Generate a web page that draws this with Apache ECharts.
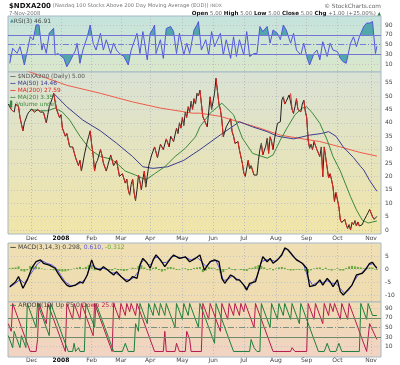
<!DOCTYPE html>
<html><head><meta charset="utf-8">
<script src="https://cdn.jsdelivr.net/npm/echarts@6/dist/echarts.min.js"></script>
<style>html,body{margin:0;padding:0;background:#fff}#c{width:400px;height:365px}</style>
</head><body><div id="c"></div>
<script>
// ---- axis / tick labels ----
const monthLabels = ['Dec','2008','Feb','Mar','Apr','May','Jun','Jul','Aug','Sep','Oct','Nov'];
const monthIdx    = [16,36,57,77,97,119,140,161,183,204,225,248]; // trading-day index of month start
const rsiTicks   = [10,30,50,70,90];
const priceTicks = [0,5,10,15,20,25,30,35,40,45,50,55];
const macdTicks  = [-10,-5,0,5];
const aroonTicks = [10,30,50,70,90];

// ---- series values: [trading-day index, value] ----
const priceClose = [[0,47],[1,47],[2,45],[4,44],[5,47],[7,46],[8,42],[10,37],[11,40],[13,43],[14,44],[16,45],[18,44],[20,45],[22,44],[24,44],[26,40],[27,43],[28,46],[30,49],[31,51],[32,48],[33,45],[35,42],[36,43],[37,38],[39,35],[40,36],[42,31],[44,31],[45,29],[46,27],[48,24],[49,26],[50,22],[52,28],[54,33],[55,35],[56,37],[57,32],[58,28],[59,22],[60,25],[61,26],[63,30],[64,28],[65,25],[67,22],[68,24],[70,28],[71,26],[72,24],[74,26],[75,23],[76,20],[78,21],[80,17.5],[81,19],[82,15],[83,13],[84,17],[85,19],[86,14],[87,11],[88,15],[89,20.5],[90,18],[91,15],[92,19],[93,22],[94,16],[95,20],[96,24],[98,28],[100,31],[102,27],[104,32],[106,30],[108,34],[110,31],[111,35],[113,33],[115,38],[116,36],[117,40],[118,38],[119,42],[120,39],[121,44],[122,42],[123,46],[124,44],[125,48],[126,45],[127,49],[128,47],[129,51],[130,50],[131,52.2],[133,42.3],[136,38.5],[138,49.7],[139,45],[141,51],[142,56.6],[144,47],[145,45],[146,41],[147,34.8],[149,38.5],[152,41.5],[153,36.7],[154,35],[155,32.3],[157,33],[158,29.9],[160,24.9],[161,21.3],[162,20],[164,26],[165,22.8],[166,24],[168,20.5],[170,20.5],[171,26],[172,30],[173,32.3],[174,28],[176,31.3],[177,34.2],[178,28.6],[179,34.8],[180,33],[181,30],[182,34],[184,39.8],[186,40.4],[187,48.5],[188,49.7],[189,47],[190,48],[192,50.4],[193,51],[194,45],[195,43.5],[196,46],[197,49],[198,45],[200,44.1],[201,47],[202,48.5],[203,44.5],[204,42],[205,33.6],[206,30.5],[207,32],[208,30],[209,33],[211,30],[213,27.4],[214,31],[215,19.9],[216,31],[217,27],[219,19.4],[220,21],[221,18.7],[222,16],[223,10.6],[224,14],[226,8.7],[227,3.7],[228,2.8],[230,4],[231,2],[232,0.6],[233,2],[234,0],[235,2.8],[236,2],[237,3.5],[238,1.5],[239,3],[240,1.5],[241,1.5],[242,2],[243,3.5],[244,4.4],[245,5.5],[246,6.5],[247,7.7],[249,5],[250,4],[251,4],[252,5]];
const ma20 = [[15,45],[22,44.5],[27,44.5],[32,45.5],[37,44],[42,41],[49,35],[56,30],[63,27.4],[70,26.5],[74,25],[80,22],[87,20.5],[94,18.7],[100,21],[107,23.6],[114,27.4],[121,30.5],[128,34.8],[131,38.5],[138,43.6],[146,47.3],[154,43],[160,34.3],[167,28.6],[177,26.8],[181,28],[186,33.6],[191,38.5],[196,43],[201,45.5],[204,46],[208,43.6],[213,39.8],[218,33.6],[222,27.4],[227,22],[234,12.4],[238,7.5],[242,3.7],[246,2.6],[249,3],[252,3.35]];
const ma50 = [[31,51],[40,46],[51,41],[63,37],[74,32.4],[85,27.4],[92,23.6],[99,23],[109,23.6],[120,26],[131,30],[145,35.5],[158,40.4],[167,38.5],[177,36.7],[184,35],[195,34],[206,35.4],[214,36],[219,36.7],[224,35],[229,31],[236,27],[241,23.6],[243,22.4],[247,18.5],[252,14.46]];
const ma200 = [[10,60],[17,58.5],[40,54],[63,51],[85,47.8],[104,45.5],[126,43.6],[131,43.6],[145,42.4],[158,40.3],[172,38],[186,35.4],[199,34.2],[213,33],[227,31],[240,29],[252,27.59]];
const rsi3 = [[1,12],[3,42.6],[6,32.4],[8,46],[11,8.6],[15,66.4],[17,59.6],[19,90.2],[21,90],[23,39],[24,52.8],[26,32.4],[28,73.2],[31,83.4],[32,29],[34,32],[38,22],[40,5],[42,15],[46,39],[47,53],[49,12],[51,39],[54,66],[56,90],[58,53],[60,39],[63,73],[65,39],[67,60],[70,32],[72,53],[74,39],[76,32],[79,26],[82,8.6],[84,39],[88,73],[90,32],[92,76.6],[95,19],[97,73],[99,83],[100,90],[101,32],[104,60],[106,22],[108,83],[111,87],[113,76.6],[115,32],[117,73],[120,29],[122,53],[124,32],[127,80],[129,90],[130,97],[132,39],[135,60],[137,29],[139,76.6],[141,46],[145,73],[147,29],[149,60],[152,22],[154,66],[156,26],[158,60],[161,29],[163,76.6],[165,26],[168,32],[170,32],[172,87],[174,76.6],[177,87],[179,53],[181,80],[184,73],[186,60],[188,90],[190,80],[193,53],[195,73],[197,39],[200,29],[202,53],[204,26],[206,8.6],[209,32],[211,39],[213,19],[215,56],[218,26],[220,53],[222,39],[225,36],[227,22],[229,15],[231,12],[234,53],[236,66],[238,46],[240,66],[243,87],[245,94],[247,94],[249,97],[251,32],[252,46.91]];
const macdLine = [[1,-6.8],[5,-4.9],[7,-2.9],[10,-7.4],[13,-4.2],[16,0.3],[19,2.8],[22,3.5],[24,2.2],[28,1.5],[32,0.3],[34,-1.7],[37,-4.2],[40,-6.2],[42,-6.8],[46,-6.2],[49,-4.9],[51,-5.5],[54,-2.3],[57,3.5],[59,0.3],[63,-0.4],[65,0.9],[68,-0.4],[72,-2.3],[74,-1],[77,-2.9],[81,-4.9],[83,-4.2],[85,-2.9],[88,-3.6],[90,1.5],[92,4.1],[95,2.2],[97,0.3],[99,3.5],[101,5.4],[104,3.5],[107,0.9],[111,4.1],[113,5.4],[117,4.1],[121,4.7],[124,2.8],[128,4.1],[131,5.4],[134,-0.4],[138,2.8],[141,3.5],[144,2.8],[146,-3.6],[148,-5.5],[152,-2.3],[154,-2.9],[156,-4.2],[158,-4.2],[161,-6.2],[163,-8.1],[165,-5.5],[169,-4.9],[172,0.9],[174,4.7],[177,2.8],[179,4.1],[181,2.2],[184,3.5],[187,5.4],[189,8.1],[191,7.5],[194,5.4],[197,3.5],[201,2.2],[204,0.3],[206,-6.8],[210,-6.2],[213,-4.2],[215,-6.2],[218,-3.6],[220,-4.9],[222,-6.8],[225,-4.2],[227,-8.7],[229,-10],[231,-8.7],[235,-6.2],[238,-2.3],[242,-1.7],[245,0.3],[247,2.2],[249,2.5],[251,0.9],[252,0.298]];
const macdSignal = [[1,-7],[5,-5.5],[8,-4],[11,-5.5],[14,-3],[17,-0.5],[20,2],[23,3.2],[26,2.3],[30,1.5],[33,0.2],[36,-2.5],[39,-5],[43,-6.5],[47,-6],[50,-5.2],[53,-3.5],[56,1],[58,1.5],[61,0],[64,0.3],[67,0],[70,-1.5],[73,-1.5],[76,-2.5],[80,-4],[83,-4.3],[86,-3.2],[89,-1],[91,2.5],[93,3.5],[96,1.5],[98,2],[100,4.3],[102,4.5],[105,2.5],[108,2.5],[112,4.8],[115,4.8],[118,4.2],[121,4.5],[125,3.5],[129,4.5],[132,3],[135,1],[139,3],[142,3.2],[145,-0.5],[147,-4.5],[150,-4],[153,-2.8],[157,-4],[160,-5.5],[163,-7.2],[166,-6],[170,-3],[173,2.8],[176,3.5],[179,3.6],[182,3],[185,4],[188,6.8],[190,7.8],[193,6.5],[196,4.2],[199,3],[202,1.5],[205,-3.5],[208,-6.2],[212,-5],[215,-5.2],[218,-4.5],[221,-5.5],[224,-5.5],[227,-7.5],[230,-9.5],[233,-8],[236,-5],[239,-2.5],[243,-0.8],[246,1.5],[249,2],[252,0.61]];
const macdHist = [[1,0.3],[3,0.5],[5,0.6],[7,1],[9,-0.8],[11,-1],[13,-0.5],[15,1.2],[17,1.3],[19,1],[21,0.6],[23,0.2],[25,-0.2],[27,0],[29,-0.3],[31,-0.5],[33,-0.6],[35,-0.8],[37,-1],[39,-0.9],[41,-0.6],[43,-0.2],[45,0.2],[47,0.5],[49,0.8],[51,0.3],[53,0.8],[55,1.5],[57,1.2],[59,-0.5],[61,-0.3],[63,0.4],[65,0.5],[67,-0.3],[69,-0.5],[71,-0.6],[73,0.3],[75,-0.4],[77,-0.5],[79,-0.8],[81,-0.6],[83,0.1],[85,0.5],[87,0.3],[89,1.2],[91,1.5],[93,0.6],[95,-0.3],[97,-0.6],[99,0.5],[101,0.8],[103,-0.4],[105,-1],[107,-0.6],[109,0.7],[111,0.8],[113,0.5],[115,-0.4],[117,-0.3],[119,0.2],[121,0.3],[123,-0.5],[125,-0.4],[127,0.4],[129,0.6],[131,0.8],[133,-1.2],[135,-0.6],[137,0.8],[139,0.5],[141,0.3],[143,-0.5],[145,-1.5],[147,-1.2],[149,-0.3],[151,0.6],[153,-0.3],[155,-0.5],[157,-0.1],[159,-0.4],[161,-0.6],[163,-0.8],[165,0.4],[167,0.5],[169,1],[171,1.5],[173,1.2],[175,0.6],[177,-0.3],[179,0.3],[181,-0.5],[183,0.2],[185,0.6],[187,0.8],[189,0.5],[191,-0.3],[193,-0.6],[195,-0.5],[197,-0.3],[199,-0.4],[201,-0.2],[203,-0.8],[205,-1.5],[207,-0.5],[209,0.2],[211,0.5],[213,0.6],[215,-0.4],[217,0.5],[219,-0.3],[221,-0.6],[223,-0.2],[225,0.3],[227,-0.6],[229,-0.6],[231,0.4],[233,1],[235,1.2],[237,1],[239,0.8],[241,0.6],[243,0.3],[245,0.4],[247,0.6],[249,0.5],[251,-0.2],[252,-0.312]];
const aroonUp = [[0,33],[3,8],[4,42],[8,8],[9,33],[12,8],[13,100],[19,50],[20,100],[28,33],[29,100],[41,0],[44,0],[45,17],[46,0],[48,8],[49,0],[52,0],[53,100],[59,50],[60,100],[72,0],[78,0],[80,17],[82,0],[86,0],[87,58],[89,42],[90,100],[95,58],[96,100],[99,75],[100,100],[103,75],[104,100],[107,75],[108,100],[114,50],[115,100],[119,67],[120,100],[123,75],[124,100],[130,50],[131,100],[141,17],[142,100],[154,0],[165,0],[166,25],[168,8],[170,0],[172,0],[173,100],[179,50],[180,100],[184,67],[185,100],[188,75],[189,100],[193,67],[194,100],[199,58],[200,100],[212,0],[216,0],[218,17],[220,0],[224,0],[226,17],[228,0],[240,0],[241,100],[245,67],[246,100],[249,75],[252,75]];
const aroonDown = [[0,58],[2,42],[3,100],[15,0],[19,0],[20,25],[21,100],[26,58],[27,100],[39,0],[40,100],[44,67],[45,100],[49,67],[50,100],[58,33],[59,100],[71,0],[72,100],[76,67],[77,100],[80,75],[81,100],[83,83],[84,100],[87,75],[88,100],[100,0],[106,0],[107,42],[108,0],[114,0],[115,17],[117,0],[121,0],[122,42],[124,25],[125,0],[132,0],[133,100],[137,67],[138,100],[145,42],[146,100],[150,67],[151,100],[154,75],[155,100],[158,75],[159,100],[161,83],[162,100],[168,50],[169,100],[181,0],[193,0],[194,8],[196,0],[204,0],[205,100],[209,67],[210,100],[215,58],[216,100],[219,75],[220,100],[222,83],[223,100],[227,67],[228,100],[232,67],[233,100],[245,0],[246,0],[247,58],[252,25]];

// ---- build chart ----
const F = 'DejaVu Sans';
const G = echarts.graphic;
const X0 = -0.2, X1 = 254.8;
const vgrad = (a, b) => new G.LinearGradient(0, 0, 0, 1, [{offset:0,color:a},{offset:1,color:b}]);
const gridDefs = [
  {top:16, height:56, bg: vgrad('#c4e3dd','#dae8cb')},
  {top:72, height:162, bg: vgrad('#d9e2d4','#f1e5a8')},
  {top:243, height:59, bg: vgrad('#efdfb3','#efdcb1')},
  {top:302, height:55, bg: vgrad('#f0dcb3','#f1d3c3')}
];
const grids = gridDefs.map(g => ({left:8, right:19, top:g.top, height:g.height, show:true, backgroundColor:g.bg, borderColor:'#a7b8c8', borderWidth:1}));
const monthFmt = v => { const i = monthIdx.indexOf(v); const s = i >= 0 ? monthLabels[i] : ''; return s === '2008' ? '{b|2008}' : s; };
const xAxes = [0,1,2,3].map(i => ({
  gridIndex:i, type:'value', min:X0, max:X1,
  axisLine:{show:false}, axisTick:{show:false, customValues:monthIdx},
  axisLabel:{show: i===1 || i===3, customValues:monthIdx, formatter:monthFmt, fontFamily:F, fontSize:6, color:'#444', margin: i===1 ? 1 : 0,
    rich:{b:{fontFamily:F, fontSize:6, fontWeight:'bold', color:'#000'}}},
  splitLine:{show:true, lineStyle:{color:'#bcbcbc', width:1, type:[1,2]}}
}));
const yDefs = [
  {min:-5.7, max:108.4, ticks:rsiTicks},
  {min:-1.49, max:58.96, ticks:priceTicks},
  {min:-12.7, max:10, ticks:macdTicks},
  {min:-11.5, max:103.1, ticks:aroonTicks}
];
const yAxes = yDefs.map((d,i) => ({
  gridIndex:i, type:'value', position:'right', min:d.min, max:d.max,
  axisLine:{show:false}, axisTick:{show:false, customValues:d.ticks},
  axisLabel:{customValues:d.ticks, fontFamily:F, fontSize:6, color:'#444', margin:4},
  splitLine:{show:true, lineStyle:{color:'#c4c4c4', width:1, type:[1,2]}}
}));

const downSeg = [];
for (let i = 0; i < priceClose.length - 1; i++) {
  if (priceClose[i+1][1] < priceClose[i][1]) downSeg.push(priceClose[i], priceClose[i+1], [priceClose[i+1][0], '-']);
}
const ln = (xi, data, color, w, extra) => Object.assign({type:'line', xAxisIndex:xi, yAxisIndex:xi, data, showSymbol:false, symbol:'none', silent:true, animation:false,
  lineStyle:{color, width:w}, itemStyle:{color}}, extra || {});

const series = [
  ln(0, rsi3, '#4d9fa6', 0, {areaStyle:{origin:50, opacity:1}, z:1}),
  ln(0, rsi3, '#5255dc', 1, {z:3, markLine:{symbol:'none', silent:true, label:{show:false}, animation:false,
    data:[{yAxis:70, lineStyle:{color:'#7374d4', width:1, type:'solid'}},{yAxis:30, lineStyle:{color:'#7374d4', width:1, type:'solid'}},{yAxis:50, lineStyle:{color:'#7a7bd6', width:1, type:[6,2,1,2]}}]}}),
  ln(1, ma200, '#ef5b4c', 1, {z:2}),
  ln(1, ma50, '#3c3c90', 1, {z:2}),
  ln(1, ma20, '#3b8a3b', 1, {z:2}),
  ln(1, priceClose, '#222222', 1, {z:4}),
  ln(1, downSeg, '#e3261e', 1, {z:5}),
  {type:'bar', xAxisIndex:2, yAxisIndex:2, data:macdHist, barWidth:2, silent:true, animation:false, itemStyle:{color:'#69a83c'}, z:2},
  ln(2, macdSignal, '#5a5ae0', 1, {z:3}),
  ln(2, macdLine, '#000000', 1.3, {z:4}),
  ln(3, aroonUp, '#1f7f3c', 1, {z:4, markLine:{symbol:'none', silent:true, label:{show:false}, animation:false,
    data:[{yAxis:70, lineStyle:{color:'#6d8a6a', width:1, type:'solid'}},{yAxis:30, lineStyle:{color:'#6d8a6a', width:1, type:'solid'}},{yAxis:50, lineStyle:{color:'#7d8f78', width:1, type:[6,2,1,2]}}]}}),
  ln(3, aroonDown, '#b8194d', 1, {z:3})
];

const T = (x, y, text, font, fill, extra) => ({type:'text', silent:true, z:100, style:Object.assign({x, y, text, font, fill, textVerticalAlign:'middle'}, extra || {})});
const r = (size, color, bold) => ({fontFamily:F, fontSize:size, fill:color, fontWeight: bold ? 'bold' : 'normal'});
const graphic = [
  T(9, 6, '{a|$NDXA200} {b|(Nasdaq 100 Stocks Above 200 Day Moving Average (EOD))} {c|INDX}', '6px '+F, '#333',
    {rich:{a:r(7,'#111',true), b:r(5.2,'#777'), c:r(4.6,'#777')}}),
  T(381, 6, '\u00A9 StockCharts.com', '5.8px '+F, '#666', {textAlign:'right'}),
  T(9, 13.5, '7-Nov-2008', '5.4px '+F, '#777'),
  T(381, 14, '{k|Open} {v|5.00} {k|High} {v|5.00} {k|Low} {v|5.00} {k|Close} {v|5.00} {k|Chg} {v|+1.00 (+25.00%)} {u|\u25B2}', '5.5px '+F, '#666',
    {textAlign:'right', rich:{k:r(5.6,'#111',true), v:r(5.4,'#666'), u:r(4.5,'#2a7f3a')}}),
  T(10, 21, '{i|\u25B2}{t|RSI(3) 46.91}', '6px '+F, '#333', {rich:{i:r(5,'#4d9fa6'), t:r(6,'#444')}}),
  T(10, 76, '{d|\u2014} {t|$NDXA200 (Daily) 5.00}', '5.8px '+F, '#444', {rich:{d:r(5.8,'#555',true), t:r(5.8,'#555')}}),
  T(10, 83.3, '{d|\u2014} {t|MA(50) 14.46}', '5.8px '+F, '#3c3c90', {rich:{d:r(5.8,'#3c3c90',true), t:r(5.8,'#3c3c90')}}),
  T(10, 90.6, '{d|\u2014} {t|MA(200) 27.59}', '5.8px '+F, '#e3261e', {rich:{d:r(5.8,'#e3261e',true), t:r(5.8,'#e3261e')}}),
  T(10, 97.9, '{d|\u2014} {t|MA(20) 3.35}', '5.8px '+F, '#3b8a3b', {rich:{d:r(5.8,'#3b8a3b',true), t:r(5.8,'#3b8a3b')}}),
  T(10, 104.6, '{d|\u258C} {t|Volume undef}', '5.8px '+F, '#3b8a3b', {rich:{d:r(5.8,'#3b8a3b'), t:r(5.8,'#3b8a3b')}}),
  T(10, 247, '{d|\u2014} {t|MACD(3,14,3) 0.298,} {s|0.610,} {h|-0.312}', '6.1px '+F, '#333',
    {rich:{d:r(6.1,'#222',true), t:r(6.1,'#444'), s:r(6.1,'#5a5ae0'), h:r(6.1,'#69a83c')}}),
  T(10, 305.5, '{d|\u2014} {t|AROON(12) Up 75.0} {h|Down 25.0}', '6.2px '+F, '#333',
    {rich:{d:r(6.2,'#1f7f3c',true), t:r(6.2,'#444'), h:r(6.2,'#b8194d')}})
];

const visualMap = [{type:'piecewise', show:false, seriesIndex:0, dimension:1,
  pieces:[{gt:70, color:'#52a7ab'},{gte:30, lte:70, color:'rgba(0,0,0,0)'},{lt:30, color:'#52a7ab'}]}];

const chart = echarts.init(document.getElementById('c'), null, {renderer:'canvas', width:400, height:365});
chart.setOption({animation:false, backgroundColor:'#ffffff', grid:grids, xAxis:xAxes, yAxis:yAxes, series, visualMap, graphic});
</script></body></html>
